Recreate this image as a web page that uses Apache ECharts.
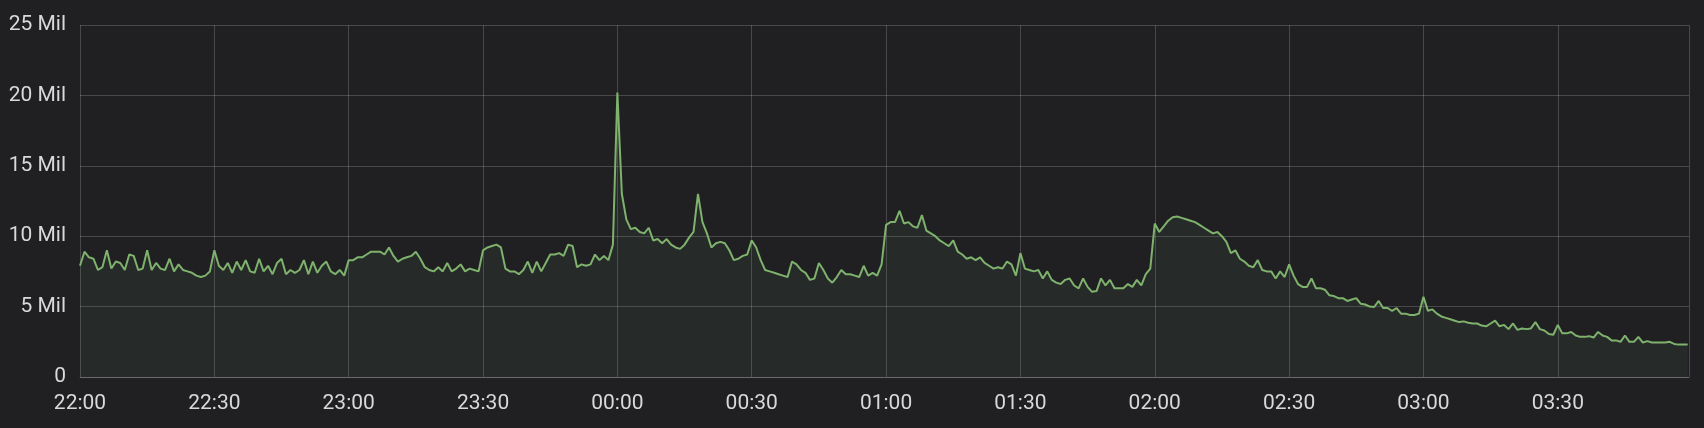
<!DOCTYPE html>
<html>
<head>
<meta charset="utf-8">
<script src="https://cdn.jsdelivr.net/npm/echarts@6/dist/echarts.min.js"></script>
<style>
  html, body { margin: 0; padding: 0; background: #202023; }
  #chart { width: 1704px; height: 428px; }
</style>
</head>
<body>
<div id="chart"></div>
<script>
// Values in millions, one per minute, starting 22:00
const hour22 = [7.9,8.9,8.5,8.4,7.6,7.8,9.0,7.7,8.2,8.1, 7.6,8.7,8.6,7.6,7.7,9.0,7.6,8.1,7.7,7.6,
  8.4,7.5,8.0,7.6,7.5,7.4,7.2,7.1,7.2,7.5, 9.0,7.9,7.6,8.1,7.4,8.2,7.6,8.3,7.5,7.4,
  8.4,7.5,7.9,7.3,8.1,8.4,7.3,7.6,7.4,7.6, 8.3,7.3,8.2,7.4,7.9,8.2,7.5,7.3,7.6,7.2];
const hour23 = [8.3,8.3,8.5,8.5,8.7,8.9,8.9,8.9,8.7,9.2, 8.6,8.2,8.4,8.5,8.6,8.9,8.4,7.8,7.6,7.5,
  7.8,7.5,8.1,7.5,7.7,8.0,7.5,7.7,7.6,7.5, 9.0,9.2,9.3,9.4,9.2,7.7,7.5,7.5,7.3,7.6,
  8.2,7.4,8.2,7.5,8.1,8.7,8.7,8.8,8.6,9.4, 9.3,7.8,8.0,7.9,8.0,8.7,8.3,8.6,8.3,9.4];
const hour00 = [20.2,13.0,11.2,10.5,10.6,10.3,10.2,10.6,9.7,9.8, 9.5,9.8,9.4,9.2,9.1,9.4,9.9,10.3,13.0,11.0,
  10.2,9.2,9.5,9.6,9.5,9.0,8.3,8.4,8.6,8.7, 9.7,9.2,8.3,7.6,7.5,7.4,7.3,7.2,7.1,8.2,
  8.0,7.6,7.4,6.9,7.0,8.1,7.6,7.0,6.7,7.1, 7.6,7.3,7.3,7.2,7.1,7.9,7.2,7.4,7.2,8.0];
const hour01 = [10.8,11.0,11.0,11.8,10.9,11.0,10.7,10.6,11.5,10.4, 10.2,10.0,9.7,9.5,9.3,9.7,8.9,8.7,8.4,8.5,
  8.3,8.5,8.1,7.9,7.7,7.8,7.7,8.2,8.0,7.2, 8.8,7.7,7.6,7.5,7.6,7.0,7.5,6.9,6.7,6.6,
  6.9,7.0,6.5,6.3,7.0,6.4,6.05,6.1,7.0,6.5, 6.9,6.3,6.3,6.3,6.6,6.4,6.9,6.5,7.3,7.7];
const hour02 = [10.9,10.3,10.7,11.1,11.35,11.4,11.3,11.2,11.1,11.0, 10.8,10.6,10.4,10.2,10.3,10.0,9.6,8.8,9.0,8.4,
  8.2,7.9,7.8,8.3,7.6,7.5,7.5,7.0,7.5,7.1, 8.0,7.2,6.6,6.4,6.4,7.0,6.3,6.3,6.2,5.8,
  5.75,5.6,5.6,5.4,5.5,5.6,5.2,5.15,5.0,4.97, 5.4,4.9,4.9,4.7,4.9,4.5,4.5,4.4,4.4,4.5];
const hour03 = [5.7,4.7,4.8,4.5,4.3,4.2,4.1,4.0,3.9,3.95, 3.85,3.8,3.8,3.65,3.6,3.8,4.0,3.6,3.7,3.4,
  3.8,3.35,3.45,3.4,3.45,3.9,3.4,3.3,3.05,3.0, 3.7,3.1,3.1,3.2,2.95,2.85,2.85,2.9,2.8,3.2,
  2.95,2.85,2.6,2.6,2.5,2.95,2.5,2.5,2.85,2.45, 2.55,2.45,2.45,2.45,2.45,2.5,2.35,2.3,2.3,2.3];
const tickLabels = ['22:00','22:30','23:00','23:30','00:00','00:30','01:00','01:30','02:00','02:30','03:00','03:30'];
const yTicks = [0, 5, 10, 15, 20, 25];

const allValues = [].concat(hour22, hour23, hour00, hour01, hour02, hour03);
const seriesData = allValues.map((v, i) => [i, v * 1e6]);

const textColor = '#d8d9da';
const gridColor = 'rgba(255,255,255,0.18)';
const chart = echarts.init(document.getElementById('chart'), null, { renderer: 'canvas' });
chart.setOption({
  backgroundColor: '#202023',
  animation: false,
  grid: { left: 80, right: 15, top: 25, bottom: 51, containLabel: false },
  xAxis: {
    type: 'value',
    min: 0,
    max: 359.3,
    interval: 30,
    axisLine: { show: true, lineStyle: { color: gridColor, width: 1 } },
    axisTick: { show: false },
    splitLine: { show: true, lineStyle: { color: gridColor, width: 1 } },
    axisLabel: {
      color: textColor,
      fontFamily: 'Roboto',
      fontSize: 21,
      margin: 16,
      showMaxLabel: false,
      formatter: v => tickLabels[Math.round(v / 30)] || ''
    }
  },
  yAxis: {
    type: 'value',
    min: 0,
    max: yTicks[yTicks.length - 1] * 1e6,
    interval: 5e6,
    axisLine: { show: false },
    axisTick: { show: false },
    splitLine: { show: true, lineStyle: { color: gridColor, width: 1 } },
    axisLabel: {
      color: textColor,
      fontFamily: 'Roboto',
      fontSize: 21,
      margin: 14,
      formatter: v => v === 0 ? '0' : (v / 1e6) + ' Mil'
    }
  },
  series: [{
    type: 'line',
    data: seriesData,
    showSymbol: false,
    smooth: false,
    lineStyle: { color: '#7EB26D', width: 2 },
    itemStyle: { color: '#7EB26D' },
    areaStyle: { color: 'rgba(126,178,109,0.1)' }
  }]
});
</script>
</body>
</html>
